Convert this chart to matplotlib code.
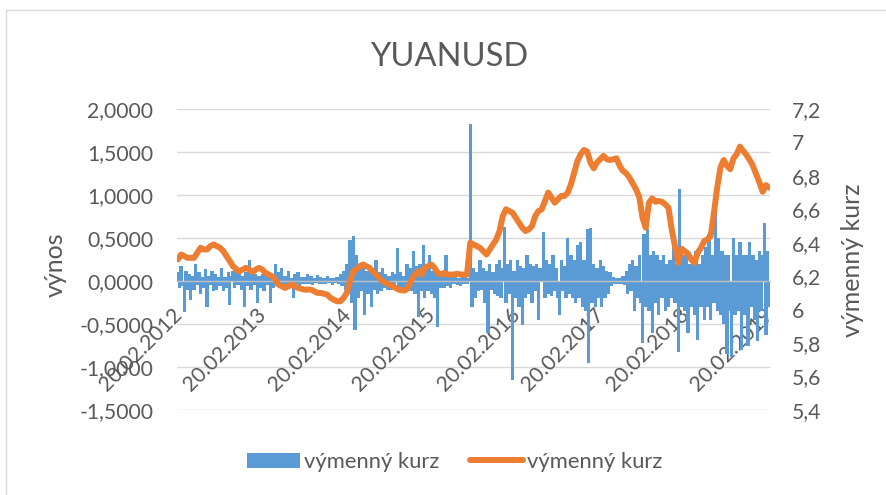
import numpy as np
import matplotlib
matplotlib.use("Agg")
import matplotlib.pyplot as plt
from matplotlib.patches import Rectangle, Patch
from matplotlib.lines import Line2D
from matplotlib.ticker import FuncFormatter, MultipleLocator
from matplotlib.transforms import ScaledTranslation

plt.rcParams['font.family'] = ['Lato', 'DejaVu Sans']

title = "YUANUSD"
left_label = "výnos"
right_label = "výmenný kurz"
series_bar = "výmenný kurz"
series_line = "výmenný kurz"

tick_labels = ["20.02.2012", "20.02.2013", "20.02.2014", "20.02.2015",
               "20.02.2016", "20.02.2017", "20.02.2018", "20.02.2019"]
weeks_per_label = 52

# weekly returns (výnos)
returns = [
    0.1, -0.08, 0.18, -0.06, -0.36, 0.12, -0.1, 0.08, -0.22, 0.06, -0.1, 0.2, -0.05,
    0.1, -0.15, 0.05, -0.08, 0.14, -0.3, 0.06, -0.05, 0.12, -0.12, 0.08, -0.1, 0.05,
    -0.06, 0.15, -0.12, 0.05, -0.08, 0.1, -0.28, 0.06, 0.12, -0.08, 0.18, -0.05, 0.08,
    -0.1, 0.06, -0.3, 0.1, -0.06, 0.24, -0.1, 0.15, -0.05, 0.08, -0.25, 0.06, -0.08,
    0.08, -0.12, 0.1, -0.05, 0.08, -0.26, 0.05, -0.08, 0.2, -0.06, 0.1, -0.04, 0.15,
    -0.1, 0.06, -0.05, 0.12, -0.08, 0.04, -0.2, 0.08, -0.04, 0.1, -0.06, 0.05, -0.04,
    0.05, -0.04, 0.08, -0.03, 0.06, -0.05, 0.04, -0.02, 0.07, -0.03, 0.05, -0.04, 0.03,
    -0.03, 0.06, -0.02, 0.04, -0.05, 0.03, -0.02, 0.05, -0.04, 0.08, -0.06, 0.12, -0.1,
    0.2, -0.15, 0.48, -0.25, 0.52, -0.57, 0.3, -0.2, 0.15, -0.12, 0.22, -0.4, 0.12,
    -0.15, 0.18, -0.3, 0.12, -0.1, 0.25, -0.15, 0.1, -0.12, 0.15, -0.08, 0.08, -0.1,
    0.06, -0.1, 0.1, -0.06, 0.08, 0.38, -0.08, 0.1, -0.12, 0.06, -0.1, 0.2, -0.12,
    0.15, -0.12, 0.35, -0.15, 0.18, -0.42, 0.2, -0.12, 0.42, -0.2, 0.15, -0.12, 0.3,
    -0.15, 0.12, -0.2, 0.1, -0.53, 0.1, -0.08, 0.06, -0.08, 0.3, -0.06, 0.05, -0.08,
    0.06, -0.04, 0.08, -0.05, 0.04, -0.06, 0.05, -0.03, 0.06, -0.03, 0.04, 1.83, -0.3,
    0.15, -0.2, 0.1, -0.12, 0.25, -0.1, 0.15, -0.25, 0.12, -0.6, 0.2, -0.1, 0.1,
    -0.15, 0.2, -0.18, 0.25, -0.2, 0.15, 0.63, -0.25, 0.2, -0.15, 0.25, -1.15, 0.12,
    -0.2, 0.25, -0.3, 0.18, -0.51, 0.15, -0.2, 0.3, -0.15, 0.2, -0.25, 0.18, -0.12,
    0.2, -0.45, 0.15, 0.12, 0.57, -0.2, 0.25, -0.15, 0.2, -0.18, 0.3, -0.12, 0.15,
    -0.2, -0.4, 0.25, -0.12, 0.18, -0.2, 0.5, -0.15, 0.3, -0.2, 0.25, -0.25, 0.42,
    -0.2, 0.45, -0.3, 0.25, -0.35, 0.6, -0.95, 0.62, -0.25, 0.2, -0.3, 0.15, -0.2,
    0.25, -0.3, 0.18, -0.2, 0.12, -0.15, 0.1, -0.06, 0.05, -0.04, 0.03, -0.03, 0.04,
    -0.03, 0.06, -0.05, 0.12, -0.15, 0.2, -0.12, 0.25, -0.35, 0.18, -0.2, 0.3, -0.25,
    -0.72, 0.55, -0.3, 0.6, -0.35, 0.3, -0.6, 0.35, -0.25, 0.3, -0.4, 0.25, -0.2,
    0.3, -0.35, 0.2, -0.3, 0.25, -0.2, 0.4, -0.25, 0.2, -0.82, 1.07, -0.3, 0.3,
    -0.35, 0.3, -0.6, 0.2, -0.3, 0.25, -0.4, 0.35, -0.69, 0.2, -0.3, 0.3, -0.45,
    0.4, -0.3, 0.55, -0.45, 0.3, -0.25, 0.86, -0.35, 0.5, -0.4, 0.35, -0.5, 0.3,
    -0.85, 0.3, -0.35, -0.88, 0.5, -0.4, 0.3, -0.35, 0.45, -0.8, 0.3, -0.4, 0.3,
    -0.75, 0.45, -0.3, 0.3, -0.45, 0.25, -0.7, 0.35, -0.35, 0.3, 0.67, -0.63, 0.35,
    -0.3,
]

# exchange rate, one value every two weeks
rate_step = 2
rate = [
    6.30, 6.33, 6.32, 6.31, 6.31, 6.31, 6.34, 6.37, 6.36, 6.36,
    6.38, 6.39, 6.38, 6.37, 6.35, 6.32, 6.29, 6.26, 6.24, 6.23,
    6.24, 6.25, 6.24, 6.225, 6.24, 6.25, 6.24, 6.22, 6.21, 6.20,
    6.18, 6.15, 6.14, 6.13, 6.14, 6.15, 6.14, 6.13, 6.125, 6.12,
    6.12, 6.12, 6.11, 6.10, 6.10, 6.095, 6.09, 6.07, 6.06, 6.05,
    6.05, 6.07, 6.10, 6.17, 6.23, 6.24, 6.26, 6.27, 6.26, 6.25,
    6.23, 6.21, 6.19, 6.17, 6.16, 6.15, 6.14, 6.13, 6.12, 6.115,
    6.115, 6.14, 6.18, 6.21, 6.23, 6.21, 6.25, 6.26, 6.27, 6.25,
    6.22, 6.21, 6.22, 6.21, 6.21, 6.21, 6.215, 6.21, 6.21, 6.21,
    6.40, 6.39, 6.38, 6.37, 6.35, 6.33, 6.36, 6.39, 6.42, 6.47,
    6.56, 6.60, 6.59, 6.58, 6.55, 6.52, 6.49, 6.47, 6.48, 6.50,
    6.56, 6.59, 6.60, 6.65, 6.70, 6.67, 6.64, 6.66, 6.68, 6.68,
    6.70, 6.75, 6.82, 6.89, 6.93, 6.955, 6.945, 6.88, 6.845, 6.88,
    6.90, 6.92, 6.90, 6.895, 6.90, 6.905, 6.86, 6.83, 6.815, 6.79,
    6.755, 6.72, 6.675, 6.55, 6.49, 6.64, 6.665, 6.645, 6.65, 6.645,
    6.63, 6.61, 6.48, 6.38, 6.28, 6.365, 6.35, 6.335, 6.30, 6.28,
    6.34, 6.37, 6.41, 6.42, 6.44, 6.58, 6.73, 6.85, 6.895, 6.86,
    6.84, 6.905, 6.93, 6.975, 6.95, 6.925, 6.895, 6.86, 6.81, 6.76,
    6.705, 6.745, 6.73,
]

BLUE = "#5B9BD5"
ORANGE = "#ED7D31"
TXT = "#595959"
GRID = "#D9D9D9"
FS = 15.2
FS_AX = 18

W, H = 886, 495
fig = plt.figure(figsize=(W / 100, H / 100), dpi=100)
fig.patch.set_facecolor("white")

# chart-area border
fig.add_artist(Rectangle((6 / W, -0.05), 1.1, (H - 10) / H + 0.05,
                         transform=fig.transFigure, fill=False,
                         edgecolor=GRID, linewidth=1.0))

ax = fig.add_axes([177 / W, (H - 410) / H, (770 - 177) / W, (410 - 109) / H])
ax2 = ax.twinx()

x = np.arange(len(returns))
ax.bar(x, returns, width=2.0, color=BLUE, linewidth=0, zorder=2)
ax.set_xlim(-0.5, len(returns) - 0.5)
ax.set_ylim(-1.5, 2.0)
ax.yaxis.set_major_locator(MultipleLocator(0.5))
ax.yaxis.set_major_formatter(FuncFormatter(lambda v, p: f"{v:.4f}".replace(".", ",").replace("-0,0000", "0,0000")))
for yv in ax.get_yticks():
    if -1.5 <= yv <= 2.0 and abs(yv) > 1e-9:
        ax.axhline(yv, color=GRID, linewidth=1.0, zorder=0)
for s in ["top", "left", "right"]:
    ax.spines[s].set_visible(False)
ax.spines["bottom"].set_position(("data", 0))
ax.spines["bottom"].set_color("#BFBFBF")
ax.spines["bottom"].set_linewidth(1.0)
ax.tick_params(axis='y', length=0, pad=17, labelsize=FS, labelcolor=TXT)
ticks = np.arange(len(tick_labels)) * weeks_per_label
ax.set_xticks(ticks)
ax.set_xticklabels(tick_labels, rotation=45, ha='right', va='top')
ax.tick_params(axis='x', length=4, color="#BFBFBF", pad=13, labelsize=FS, labelcolor=TXT)
shift = ScaledTranslation(8 / 100, 0, fig.dpi_scale_trans)
for lab in ax.get_xticklabels():
    lab.set_transform(lab.get_transform() + shift)
ax.set_ylabel(left_label, fontsize=FS_AX, color=TXT)
ax.yaxis.set_label_coords((67 - 177) / 593, (410 - 265) / 301)

xr = np.arange(len(rate)) * rate_step
ax2.plot(xr, rate, color=ORANGE, linewidth=4.3, solid_capstyle='round',
         solid_joinstyle='round', zorder=3)
ax2.set_ylim(5.4, 7.2)
ax2.yaxis.set_major_locator(MultipleLocator(0.2))
ax2.yaxis.set_major_formatter(FuncFormatter(lambda v, p: (f"{v:.1f}".rstrip("0").rstrip(".")).replace(".", ",")))
for s in ["top", "left", "right", "bottom"]:
    ax2.spines[s].set_visible(False)
ax2.tick_params(axis='y', length=0, pad=16, labelsize=FS, labelcolor=TXT)
ax2.set_ylabel(right_label, fontsize=FS_AX, color=TXT)
ax2.yaxis.set_label_coords((841 - 177) / 593, (410 - 260) / 301)

fig.text(450 / W, (H - 66.5) / H, title, ha='center', va='baseline',
         fontsize=23.5, color=TXT)

handles = [Patch(facecolor=BLUE, edgecolor='none'),
           Line2D([0], [0], color=ORANGE, linewidth=4.3, solid_capstyle='round')]
leg = fig.legend(handles, [series_bar, series_line], loc='center',
                 bbox_to_anchor=(455 / W, (H - 462) / H), ncol=2, frameon=False,
                 fontsize=15.8, handlelength=2.4, handletextpad=0.2,
                 columnspacing=1.4, labelcolor=TXT)

fig.savefig("out.png", dpi=100, facecolor="white")
